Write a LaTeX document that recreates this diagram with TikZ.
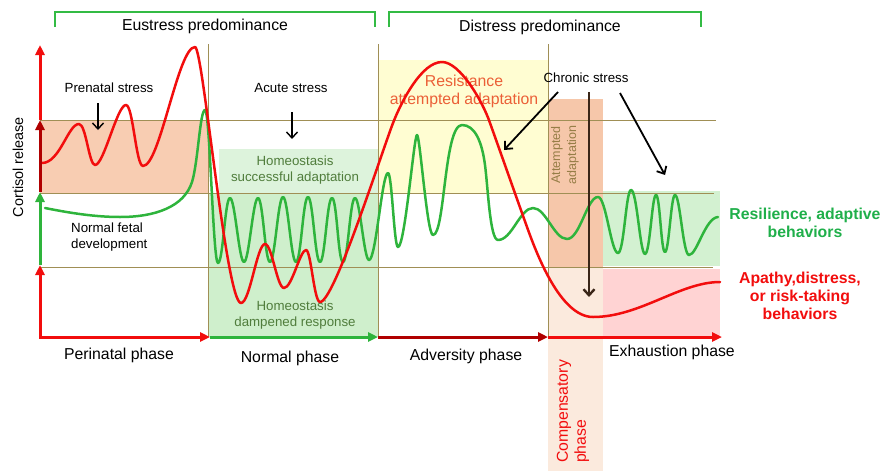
\documentclass[tikz,border=0pt]{standalone}
\usepackage{fontspec}
\setmainfont{Liberation Sans}
\usetikzlibrary{arrows.meta}
\definecolor{cred}{HTML}{F20D0D}
\definecolor{cgreen}{HTML}{2EB43C}
\definecolor{cdred}{HTML}{B00000}
\definecolor{olivel}{HTML}{A08F55}
\definecolor{brkgreen}{HTML}{33BB44}
\definecolor{peach}{HTML}{F8CDB2}
\definecolor{lgreenA}{HTML}{DDF3DC}
\definecolor{lgreenB}{HTML}{CFEFCC}
\definecolor{lyellow}{HTML}{FFFDD2}
\definecolor{attorange}{HTML}{F6C7AA}
\definecolor{comppeach}{HTML}{FBEADD}
\definecolor{rgreen}{HTML}{D3F1D1}
\definecolor{rpink}{HTML}{FFD3D3}
\definecolor{homeotxt}{HTML}{507D3C}
\definecolor{resisttxt}{HTML}{EB5F37}
\definecolor{atttxt}{HTML}{967D46}
\definecolor{brown}{HTML}{3A2618}
\definecolor{boldgreen}{HTML}{1FAF4A}
\newcommand\szbig{\fontsize{15.8}{18}\selectfont}
\newcommand\szsmall{\fontsize{13.3}{16}\selectfont}
\newcommand\szcort{\fontsize{14.4}{17}\selectfont}
\newcommand\szatt{\fontsize{12.5}{16}\selectfont}
\begin{document}
\begin{tikzpicture}[x=1pt,y=-1pt,
  ax/.style={line width=3pt},
  tipb/.style={-{Triangle[length=10pt,width=9pt]}},
  curve/.style={line width=2.5pt, line cap=round, line join=round},
  gridl/.style={draw=olivel, line width=1pt},
  ptr/.style={line width=1.8pt, -{Straight Barb[length=6pt,width=11pt]}},
  brk/.style={draw=brkgreen, line width=1.8pt},
  txt/.style={inner sep=0pt, align=center}]
\useasboundingbox (0,0) rectangle (882,471);
% ---------- fills
\fill[peach] (40,120) rectangle (208,193);
\fill[lgreenA] (219,149) rectangle (378,193);
\fill[lgreenB] (208,193) rectangle (378,337);
\fill[lyellow] (378,60) rectangle (548,193);
\fill[attorange] (548,99) rectangle (603,267);
\fill[comppeach] (548,267) rectangle (603,471);
\fill[rgreen] (603,191) rectangle (720,265.5);
\fill[rpink] (603,268.5) rectangle (720,337);
% ---------- grid lines
\draw[gridl] (40,120) -- (716,120);
\draw[gridl] (40,193) -- (714,193);
\draw[gridl] (40,267) -- (713,267);
\draw[gridl] (208,44) -- (208,337);
\draw[gridl] (378,44) -- (378,337);
\draw[gridl] (548,44) -- (548,337);
% ---------- brackets
\draw[brk] (55,27) |- (375,12) -- (375,27);
\draw[brk] (389,27) |- (701,12) -- (701,27);
% ---------- texts
\node[txt,font=\szbig] (eus) at (205,26) {Eustress predominance};
\node[txt,font=\szbig] (dis) at (540,27) {Distress predominance};
\node[txt,font=\szcort,rotate=90] (cort) at (18,167) {Cortisol release};
\node[txt,font=\szsmall] (pren) at (109,88) {Prenatal stress};
\node[txt,font=\szsmall] (acute) at (291,88) {Acute stress};
\node[txt,font=\szsmall,text=homeotxt] (homA) at (295,170) {Homeostasis\\successful adaptation};
\node[txt,font=\szsmall,text=homeotxt] (homB) at (295,315) {Homeostasis\\dampened response};
\node[txt,font=\szsmall,align=left,anchor=west] (fetal) at (71,237) {Normal fetal\\development};
\node[txt,font=\szbig] (peri) at (119,355) {Perinatal phase};
\node[txt,font=\szbig] (norm) at (290,358) {Normal phase};
\node[txt,font=\szbig] (adv) at (466,356) {Adversity phase};
\node[txt,font=\szbig] (exh) at (672,352) {Exhaustion phase};
\node[txt,font=\szbig,text=cred,align=left,rotate=90,anchor=west] (comp) at (573,463) {Compensatory\\phase};
\node[txt,font=\szbig,text=resisttxt] (resist) at (464,91) {Resistance\\attempted adaptation};
\node[txt,font=\szatt,text=atttxt,rotate=90] (att) at (565,155) {Attempted\\adaptation};
\node[txt,font=\szbig\bfseries,text=boldgreen] (resil) at (805,223) {Resilience, adaptive\\behaviors};
\node[txt,font=\szbig\bfseries,text=cred] (apathy) at (800,296) {Apathy,distress,\\or risk-taking\\behaviors};
\node[txt,font=\szsmall] (chronic) at (586,78) {Chronic stress};
% ---------- green curve
\draw[curve, draw=cgreen] (45,208) .. controls (70,213) and (95,217) .. (120,217)
 .. controls (155,217) and (184,207) .. (192,182)
 .. controls (198,163) and (200,110) .. (205,110)
 .. controls (210,110) and (213,263) .. (218,263)
 .. controls (223,263) and (225,198) .. (230,198)
 .. controls (235,198) and (239,262) .. (244,262)
 .. controls (249,262) and (253,198) .. (258,198)
 .. controls (263,198) and (265,262) .. (270,262)
 .. controls (275,262) and (278,197) .. (283,197)
 .. controls (288,197) and (291,262) .. (296,262)
 .. controls (301,262) and (303,197) .. (308,197)
 .. controls (313,197) and (315,262) .. (320,262)
 .. controls (325,262) and (327,198) .. (332,198)
 .. controls (337,198) and (338,262) .. (343,262)
 .. controls (348,262) and (350,198) .. (355,198)
 .. controls (360,198) and (364,260) .. (369,260)
 .. controls (376,260) and (382,173) .. (388,173)
 .. controls (392,173) and (394,247) .. (398,247)
 .. controls (405,247) and (414,135) .. (417,135)
 .. controls (420,135) and (427,235) .. (433,235)
 .. controls (445,235) and (444,125) .. (462,125)
 .. controls (475,125) and (482,142) .. (485,165)
 .. controls (488,188) and (490,240) .. (498,240)
 .. controls (512,240) and (520,208) .. (533,208)
 .. controls (546,208) and (554,239) .. (567,239)
 .. controls (580,239) and (587,197) .. (598,197)
 .. controls (606,197) and (611,253) .. (618,253)
 .. controls (624,253) and (626,190) .. (631,190)
 .. controls (637,190) and (640,254) .. (645,254)
 .. controls (650,254) and (652,195) .. (656,195)
 .. controls (660,195) and (661,252) .. (665,252)
 .. controls (669,252) and (671,195) .. (675,195)
 .. controls (680,195) and (683,255) .. (689,255)
 .. controls (697,255) and (705,218) .. (718,217);
% ---------- red curve
\draw[curve, draw=cred] (42,163) .. controls (60,163) and (68,124) .. (79,124)
 .. controls (86,124) and (89,165) .. (95,165)
 .. controls (104,165) and (117,105) .. (126,105)
 .. controls (133,105) and (136,166) .. (143,166)
 .. controls (160,166) and (178,47) .. (195,47)
 .. controls (203,47) and (226,303) .. (241,303)
 .. controls (250,303) and (257,244) .. (265,244)
 .. controls (272,244) and (277,288) .. (284,288)
 .. controls (292,288) and (300,250) .. (306,250)
 .. controls (311,250) and (314,302) .. (320,302)
 .. controls (334,302) and (379,160) .. (393,123)
 .. controls (402,100) and (422,62) .. (442,62)
 .. controls (460,62) and (483,102) .. (490,123)
 .. controls (499,148) and (518,202) .. (527,227)
 .. controls (536,252) and (560,317) .. (593,317)
 .. controls (640,317) and (680,282) .. (720,282);
% ---------- axes
\coordinate (o) at (40,337);
\coordinate (v1) at (40,265);
\coordinate (v2) at (40,192);
\coordinate (v3) at (40,120);
\coordinate (v4) at (40,45);
\coordinate (h1) at (210,337);
\coordinate (h2) at (378,337);
\coordinate (h3) at (548,337);
\coordinate (h4) at (722,337);
\draw[ax, draw=cred, {Triangle[length=10pt,width=9pt]}-{Triangle[length=10pt,width=9pt]}] (v1) -- (o) -- (h1);
\draw[ax, draw=cgreen, tipb] (v1) -- (v2);
\draw[ax, draw=cdred, tipb] (v2) -- (v3);
\draw[ax, draw=cred, tipb] (v3) -- (v4);
\draw[ax, draw=cgreen, tipb] (h1) -- (h2);
\draw[ax, draw=cdred, tipb] (h2) -- (h3);
\draw[ax, draw=cred, tipb] (h3) -- (h4);
% ---------- pointer arrows
\coordinate (pA) at (98,103);
\coordinate (pB) at (98,130);
\coordinate (aA) at (292,112);
\coordinate (aB) at (292,139);
\coordinate (c1s) at (558,92);
\coordinate (c1e) at (504,150);
\coordinate (c2s) at (589,92);
\coordinate (c2e) at (589,297);
\coordinate (c3s) at (620,93);
\coordinate (c3e) at (665,175);
\draw[ptr, line width=1.4pt] (pA) -- (pB);
\draw[ptr, line width=1.4pt] (aA) -- (aB);
\draw[ptr] (c1s) -- (c1e);
\draw[ptr, draw=brown, line width=2.4pt] (c2s) -- (c2e);
\draw[ptr] (c3s) -- (c3e);
\end{tikzpicture}
\end{document}
